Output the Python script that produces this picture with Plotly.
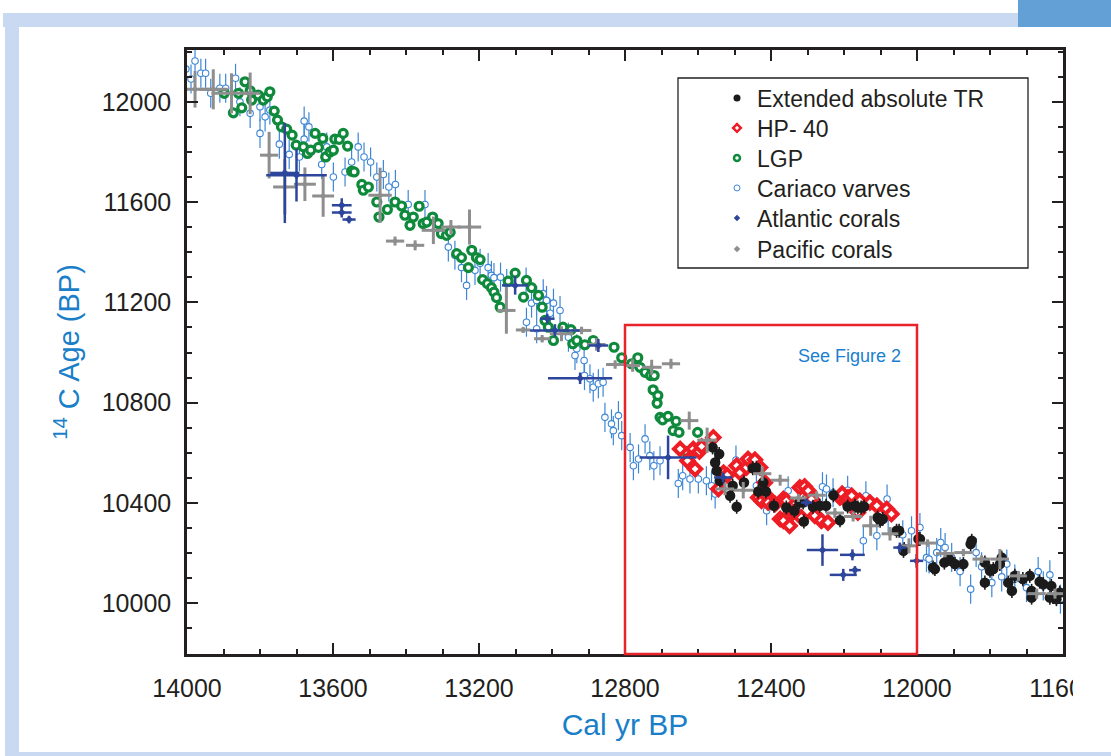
import plotly.graph_objects as go

# ---------------- data ----------------
x_ticks = [14000, 13600, 13200, 12800, 12400, 12000, 11600]
x_ticklabels = ["14000", "13600", "13200", "12800", "12400", "12000", "11600"]
y_ticks = [10000, 10400, 10800, 11200, 11600, 12000]
y_ticklabels = ["10000", "10400", "10800", "11200", "11600", "12000"]

# Extended absolute TR (black dots)
tr_x = [12560, 12542, 12553, 12549, 12540, 12512, 12505, 12494, 12474, 12450, 12440, 12435, 12421,
        12414, 12392, 12358, 12336, 12322, 12312, 12310, 12285, 12266, 12249, 12229, 12211, 12190,
        12170, 12162, 12153, 12145, 12108, 12101, 12094, 12056, 12049, 12037, 12035, 11996, 11992,
        11956, 11951, 11925, 11912, 11896, 11873, 11853, 11850, 11814, 11814, 11800, 11791, 11773,
        11768, 11750, 11740, 11732, 11710, 11691, 11686, 11686, 11664, 11654, 11632, 11636, 11618,
        11609]
tr_y = [10621, 10595, 10561, 10528, 10488, 10428, 10468, 10384, 10481, 10538, 10540, 10445, 10481,
        10445, 10388, 10381, 10368, 10401, 10401, 10325, 10384, 10388, 10388, 10430, 10330, 10385,
        10388, 10381, 10381, 10385, 10341, 10328, 10335, 10288, 10288, 10208, 10215, 10255, 10255,
        10141, 10135, 10161, 10175, 10155, 10155, 10235, 10248, 10161, 10081, 10128, 10135, 10155,
        10181, 10081, 10048, 10108, 10095, 10108, 10048, 10021, 10085, 10075, 10068, 10021, 10015,
        10041]
tr_err = 28

# HP-40 (red diamonds)
hp_x = [12649, 12629, 12613, 12608, 12596, 12590, 12558, 12544, 12530, 12520, 12494, 12485, 12467,
        12463, 12444, 12430, 12417, 12435, 12426, 12412, 12408, 12389, 12375, 12366, 12366, 12358,
        12349, 12340, 12321, 12308, 12298, 12317, 12289, 12280, 12262, 12244, 12211, 12205, 12193,
        12189, 12179, 12162, 12157, 12129, 12110, 12083, 12070]
hp_y = [10615, 10568, 10615, 10535, 10605, 10625, 10661, 10455, 10520, 10510, 10548, 10520, 10541,
        10575, 10572, 10541, 10481, 10421, 10408, 10428, 10401, 10395, 10335, 10415, 10328, 10408,
        10308, 10361, 10461, 10465, 10448, 10341, 10415, 10348, 10328, 10321, 10421, 10436, 10408,
        10421, 10428, 10361, 10408, 10401, 10388, 10375, 10355]

# LGP (green rings)
lgp_x = [13898, 13873, 13859, 13850, 13841, 13827, 13823, 13805, 13791, 13780, 13773, 13761, 13752,
         13741, 13727, 13712, 13701, 13681, 13670, 13661, 13649, 13640, 13628, 13620, 13608, 13599,
         13595, 13583, 13572, 13560, 13549, 13542, 13521, 13517, 13503, 13480, 13474, 13451, 13430,
         13412, 13403, 13389, 13380, 13364, 13353, 13343, 13327, 13312, 13303, 13289, 13279, 13261,
         13248, 13229, 13220, 13207, 13197, 13190, 13177, 13166, 13159, 13152, 13142, 13120, 13101,
         13078, 13070, 13056, 13037, 13027, 13019, 13010, 12996, 12970, 12948, 12943, 12932, 12910,
         12887, 12830, 12809, 12782, 12765, 12759, 12745, 12730, 12720, 12723, 12710, 12712, 12704,
         12697, 12682, 12668, 12660, 12652, 12601, 12633]
lgp_y = [12035, 11957, 12035, 11977, 12081, 12045, 12008, 12028, 12008, 12021, 12041, 11964, 11928,
         11901, 11892, 11868, 11828, 11821, 11795, 11808, 11875, 11819, 11855, 11781, 11801, 11808,
         11852, 11851, 11875, 11824, 11724, 11721, 11671, 11648, 11661, 11601, 11541, 11571, 11601,
         11585, 11548, 11508, 11541, 11584, 11515, 11521, 11541, 11515, 11475, 11468, 11480, 11395,
         11379, 11339, 11408, 11379, 11371, 11291, 11275, 11259, 11241, 11219, 11181, 11285, 11317,
         11221, 11288, 11259, 11228, 11181, 11128, 11101, 11048, 11101, 11091, 11035, 11048, 11031,
         11048, 11021, 10979, 10955, 10979, 10941, 10921, 10908, 10908, 10851, 10828, 10797, 10741,
         10731, 10745, 10688, 10725, 10681, 10681, 10605]

# Cariaco varves (small open blue circles)
car_x = [14003, 13989, 13978, 13962, 13949, 13935, 13910, 13894, 13867, 13855, 13827, 13800, 13800,
         13786, 13773, 13747, 13720, 13692, 13679, 13666, 13679, 13631, 13617, 13599, 13567, 13549,
         13531, 13515, 13497, 13480, 13462, 13447, 13429, 13394, 13348, 13284, 13266, 13248, 13234,
         13211, 13197, 13175, 13166, 13159, 13141, 13124, 13071, 13070, 13056, 13042, 13042, 13024,
         13015, 13005, 12996, 12978, 12955, 12937, 12932, 12912, 12911, 12896, 12887, 12873, 12860,
         12855, 12837, 12832, 12818, 12809, 12786, 12777, 12763, 12745, 12732, 12721, 12704, 12654,
         12642, 12622, 12599, 12577, 12563, 12553, 12496, 12440, 12412, 12353, 12259, 12248, 12230,
         12190, 12140, 12147, 12082, 12079, 12110, 12039, 12015, 11992, 11974, 11946, 11967, 11935,
         11923, 11905, 11882, 11853, 11838, 11823, 11795, 11768, 11754, 11732, 11700, 11668, 11654,
         11636, 11607]
car_y = [12132, 12092, 12164, 12115, 12115, 12035, 12055, 12055, 12095, 12001, 11955, 11981, 11875,
         11941, 11968, 11832, 11791, 11781, 11924, 11901, 11852, 11751, 11821, 11701, 11721, 11761,
         11821, 11781, 11761, 11701, 11711, 11661, 11671, 11591, 11591, 11421, 11388, 11339, 11268,
         11328, 11356, 11339, 11308, 11299, 11301, 11275, 11281, 11121, 11197, 11208, 11095, 11235,
         11208, 11157, 11197, 11168, 11061, 10988, 11015, 10968, 10908, 10895, 10861, 10875, 10881,
         10741, 10715, 10688, 10748, 10668, 10621, 10548, 10575, 10655, 10588, 10548, 10568, 10477,
         10508, 10495, 10495, 10488, 10468, 10435, 10571, 10468, 10368, 10448, 10464, 10455, 10440,
         10450, 10428, 10248, 10415, 10341, 10268, 10272, 10288, 10301, 10181, 10201, 10175, 10241,
         10221, 10181, 10125, 10055, 10201, 10144, 10081, 10104, 10155, 10095, 10061, 10125, 10068,
         10112, 10015]
car_err = 58

# Atlantic corals (dark blue crosses)
atl_x = [13732, 13700, 13576, 13576, 13556, 13101, 13013, 12992, 12873, 12923, 12682, 12531, 12303,
         12259, 12177, 12202, 12170, 12047, 12001]
atl_xerr = [40, 83, 27, 27, 18, 36, 20, 68, 27, 88, 78, 25, 15, 43, 34, 37, 16, 18, 18]
atl_y = [11717, 11708, 11588, 11559, 11531, 11268, 11135, 11088, 11028, 10897, 10581, 10501, 10401,
         10211, 10192, 10112, 10131, 10221, 10168]
atl_yerr = [200, 105, 28, 20, 15, 37, 20, 25, 26, 23, 87, 20, 15, 63, 22, 24, 16, 20, 27]

# Pacific corals (grey crosses)
pac_x = [13978, 13928, 13878, 13827, 13775, 13732, 13677, 13627, 13471, 13430, 13375, 13325, 13277,
         13226, 13125, 13079, 13027, 12974, 12919, 12878, 12827, 12779, 12727, 12674, 12624, 12575,
         12526, 12476, 12424, 12375, 12325, 12275, 12225, 12175, 12127, 12074, 12022, 11971, 11923,
         11873, 11823, 11773, 11722, 11672, 11622]
pac_xerr = [60, 40, 55, 27, 25, 32, 30, 30, 32, 25, 25, 32, 27, 32, 25, 20, 22, 32, 27, 25, 25, 20,
            27, 25, 25, 27, 25, 27, 25, 25, 23, 25, 25, 25, 23, 23, 23, 25, 25, 25, 25, 25, 23, 25, 23]
pac_y = [12051, 12051, 12035, 12035, 11788, 11661, 11672, 11625, 11628, 11445, 11428, 11488, 11501,
         11501, 11168, 11090, 11055, 11075, 11088, 11032, 10952, 10948, 10941, 10955, 10728, 10650,
         10455, 10450, 10516, 10490, 10419, 10430, 10359, 10345, 10308, 10276, 10228, 10239, 10197,
         10201, 10175, 10175, 10108, 10037, 10037]
pac_yerr = [73, 80, 80, 83, 93, 110, 67, 83, 110, 18, 20, 55, 28, 70, 93, 12, 15, 30, 15, 25, 17, 25,
            30, 20, 36, 50, 25, 33, 28, 22, 16, 16, 20, 20, 40, 27, 30, 15, 15, 15, 15, 40, 20, 20, 20]

# "See Figure 2" box, in data units
box_x0, box_x1 = 12800, 12000
box_y1 = 11110

# ---------------- styling ----------------
FONT = "Liberation Sans, Arial, sans-serif"
INK = "#231f20"
C_CAR = "#3d86d6"
C_LGP = "#0f8a3c"
C_HP = "#ee1c24"
C_ATL = "#2d469c"
C_PAC = "#8e8e8e"
C_TITLE = "#1a7fc8"

W, H = 1111, 756
L, R, T, B = 187, 1063, 50, 654
Y_LO, Y_HI = 9796, 12208


def px(xp):
    return (xp - L) / (R - L)


def py(yp):
    return (B - yp) / (B - T)


fig = go.Figure()

fig.add_trace(go.Scatter(
    x=car_x, y=car_y, mode="markers", showlegend=False,
    marker=dict(symbol="circle", size=6.5, color="white", line=dict(color=C_CAR, width=1.1)),
    error_y=dict(type="constant", value=car_err, color=C_CAR, thickness=1.2, width=0)))

fig.add_trace(go.Scatter(
    x=lgp_x, y=lgp_y, mode="markers", showlegend=False,
    marker=dict(symbol="circle", size=8, color="white", line=dict(color=C_LGP, width=3.2))))

fig.add_trace(go.Scatter(
    x=hp_x, y=hp_y, mode="markers", showlegend=False,
    marker=dict(symbol="diamond", size=9.5, color="white", line=dict(color=C_HP, width=4))))

fig.add_trace(go.Scatter(
    x=tr_x, y=tr_y, mode="markers", showlegend=False,
    marker=dict(symbol="circle", size=10.5, color="#1b1b1b", line=dict(width=0)),
    error_y=dict(type="constant", value=tr_err, color="#1b1b1b", thickness=1.6, width=0)))

fig.add_trace(go.Scatter(
    x=pac_x, y=pac_y, mode="markers", showlegend=False,
    marker=dict(symbol="diamond", size=5, color=C_PAC),
    error_x=dict(type="data", array=pac_xerr, color=C_PAC, thickness=3, width=0),
    error_y=dict(type="data", array=pac_yerr, color=C_PAC, thickness=3, width=0)))

fig.add_trace(go.Scatter(
    x=atl_x, y=atl_y, mode="markers", showlegend=False,
    marker=dict(symbol="diamond", size=6, color=C_ATL),
    error_x=dict(type="data", array=atl_xerr, color=C_ATL, thickness=2.5, width=0),
    error_y=dict(type="data", array=atl_yerr, color=C_ATL, thickness=2.5, width=0)))

# legend-only entries, each in its own legend so the row spacing matches
legend_items = [
    ("Extended absolute TR", dict(symbol="circle", size=7, color="#1b1b1b")),
    ("HP- 40", dict(symbol="diamond", size=6, color="white", line=dict(color=C_HP, width=2.5))),
    ("LGP", dict(symbol="circle", size=6, color="white", line=dict(color=C_LGP, width=2.5))),
    ("Cariaco varves", dict(symbol="circle", size=6, color="white", line=dict(color=C_CAR, width=1))),
    ("Atlantic corals", dict(symbol="diamond", size=5, color=C_ATL)),
    ("Pacific corals", dict(symbol="diamond", size=5, color=C_PAC)),
]
legend_rows = [98, 128, 158, 188, 218, 249]
legend_layout = {}
for i, ((name, mk), row) in enumerate(zip(legend_items, legend_rows)):
    lname = "legend" if i == 0 else f"legend{i + 1}"
    fig.add_trace(go.Scatter(x=[None], y=[None], mode="markers", name=name, marker=mk,
                             showlegend=True, legend=lname))
    legend_layout[lname] = dict(x=px(717), y=py(row), xanchor="left", yanchor="middle",
                                bgcolor="rgba(0,0,0,0)", borderwidth=0,
                                font=dict(family=FONT, size=23, color=INK))

axis_common = dict(
    showline=True, linewidth=2.5, linecolor=INK, mirror="ticks",
    ticks="inside", ticklen=11, tickwidth=2, tickcolor=INK,
    showgrid=False, zeroline=False,
    tickfont=dict(family=FONT, size=25, color=INK),
    minor=dict(tickmode="linear", tick0=0, dtick=100, ticks="inside", ticklen=5,
               tickwidth=1.5, tickcolor=INK, showgrid=False),
)

fig.update_layout(
    width=W, height=H,
    margin=dict(l=L, r=W - R, t=T, b=H - B),
    paper_bgcolor="white", plot_bgcolor="white",
    font=dict(family=FONT, color=INK),
    xaxis=dict(range=[14000, 11600], tickmode="array", tickvals=x_ticks, ticktext=x_ticklabels,
               ticklabelstandoff=10,
               title=dict(text="Cal yr BP", font=dict(family=FONT, size=30, color=C_TITLE),
                          standoff=14),
               **axis_common),
    yaxis=dict(range=[Y_LO, Y_HI], tickmode="array", tickvals=y_ticks, ticktext=y_ticklabels,
               ticklabelstandoff=8,
               title=dict(text="<sup>14</sup> C Age (BP)",
                          font=dict(family=FONT, size=29, color=C_TITLE), standoff=14),
               **axis_common),
    showlegend=True,
    **legend_layout,
)

shapes = [
    # frame decorations
    dict(type="rect", xref="paper", yref="paper", x0=px(3), x1=px(1018), y0=py(27), y1=py(13),
         fillcolor="#c8d9f1", line=dict(width=0), layer="below"),
    dict(type="rect", xref="paper", yref="paper", x0=px(1018), x1=px(1111), y0=py(27), y1=py(0),
         fillcolor="#62a0d6", line=dict(width=0), layer="below"),
    dict(type="rect", xref="paper", yref="paper", x0=px(5), x1=px(19), y0=py(756), y1=py(13),
         fillcolor="#c8d9f1", line=dict(width=0), layer="below"),
    dict(type="rect", xref="paper", yref="paper", x0=px(5), x1=px(1111), y0=py(756), y1=py(752),
         fillcolor="#c8d9f1", line=dict(width=0), layer="below"),
    # clip of the last x tick label as in the reference
    dict(type="rect", xref="paper", yref="paper", x0=px(1073), x1=px(1111), y0=py(712), y1=py(662),
         fillcolor="white", line=dict(width=0), layer="above"),
    # legend box
    dict(type="rect", xref="paper", yref="paper", x0=px(678), x1=px(1028), y0=py(268), y1=py(78),
         fillcolor="rgba(0,0,0,0)", line=dict(color=INK, width=1.3), layer="above"),
    # See Figure 2 box
    dict(type="rect", xref="x", yref="paper", x0=box_x0, x1=box_x1, y0=0,
         y1=(box_y1 - Y_LO) / (Y_HI - Y_LO),
         fillcolor="rgba(0,0,0,0)", line=dict(color="#e8232a", width=2.5), layer="above"),
]
fig.update_layout(shapes=shapes)

fig.add_annotation(text="See Figure 2", xref="x", yref="y", x=12185, y=10985,
                   showarrow=False, font=dict(family=FONT, size=18, color="#1a7fd0"))

fig.write_html("out.html")
